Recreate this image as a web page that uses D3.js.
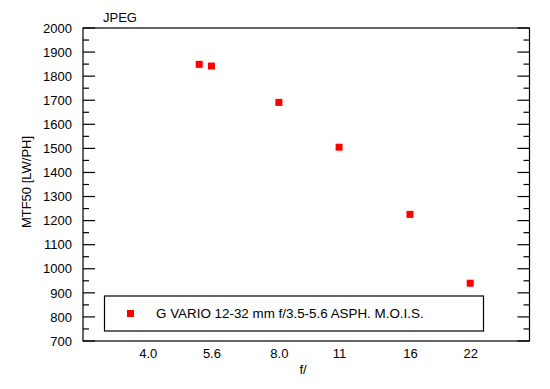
<!DOCTYPE html>
<html>
<head>
<meta charset="utf-8">
<script src="https://cdn.jsdelivr.net/npm/d3@7"></script>
<style>
  body { margin: 0; background: #fff; }
  text { font-family: "Liberation Sans", Arial, sans-serif; fill: #000; }
</style>
</head>
<body>
<svg id="chart" width="550" height="389"></svg>
<script>
// data
const apertures = [5.25, 5.6, 8.0, 11, 16, 22];
const mtf50 = [1849, 1842, 1691, 1505, 1226, 940];
const xTickValues = [4.0, 5.6, 8.0, 11, 16, 22];
const xTickLabels = ["4.0", "5.6", "8.0", "11", "16", "22"];
const seriesName = "G VARIO 12-32 mm f/3.5-5.6 ASPH. M.O.I.S.";

const svg = d3.select("#chart");
const margin = { left: 83, top: 28, right: 20.5, bottom: 48 };
const width = 550 - margin.left - margin.right;
const height = 389 - margin.top - margin.bottom;
const fs = "13px";

const g = svg.append("g").attr("transform", `translate(${margin.left},${margin.top})`);

const x = d3.scaleLog().domain([2.84, 30.1]).range([0, width]);
const y = d3.scaleLinear().domain([700, 2000]).range([height, 0]);

// frame
g.append("rect")
  .attr("x", 0).attr("y", 0)
  .attr("width", width).attr("height", height)
  .attr("fill", "none").attr("stroke", "#000").attr("stroke-width", 1.2);

// y ticks, major every 100, minor at 50 - on both sides, pointing inward
const majors = d3.range(700, 2001, 100);
const minors = d3.range(750, 2000, 100);

const yLeft = d3.axisLeft(y).tickValues(majors).tickFormat(d3.format("d")).tickSize(0).tickPadding(11);
const yAxisG = g.append("g").call(yLeft);
yAxisG.select(".domain").remove();
yAxisG.selectAll("text").style("font-size", fs).attr("fill", "#000");

const tickG = g.append("g").attr("stroke", "#000").attr("stroke-width", 1.2);
majors.forEach(v => {
  tickG.append("line").attr("x1", 0).attr("x2", 12).attr("y1", y(v)).attr("y2", y(v));
  tickG.append("line").attr("x1", width - 12).attr("x2", width).attr("y1", y(v)).attr("y2", y(v));
});
minors.forEach(v => {
  tickG.append("line").attr("x1", 0).attr("x2", 6).attr("y1", y(v)).attr("y2", y(v));
  tickG.append("line").attr("x1", width - 6).attr("x2", width).attr("y1", y(v)).attr("y2", y(v));
});

// x axis labels only, no tick marks
const xAxis = d3.axisBottom(x).tickValues(xTickValues)
  .tickFormat((d, i) => xTickLabels[i]).tickSize(0).tickPadding(8);
const xAxisG = g.append("g").attr("transform", `translate(0,${height})`).call(xAxis);
xAxisG.select(".domain").remove();
xAxisG.selectAll("text").style("font-size", fs).attr("fill", "#000");

// axis titles
svg.append("text")
  .attr("x", 303).attr("y", 374)
  .attr("text-anchor", "middle")
  .style("font-size", fs)
  .text("f/");

svg.append("text")
  .attr("transform", "translate(31,182) rotate(-90)")
  .attr("text-anchor", "middle")
  .style("font-size", fs)
  .text("MTF50 [LW/PH]");

svg.append("text")
  .attr("x", 103).attr("y", 22)
  .style("font-size", fs)
  .text("JPEG");

// points
const sq = 7;
g.append("g").selectAll("rect")
  .data(apertures.map((a, i) => ({ a, v: mtf50[i] })))
  .enter().append("rect")
  .attr("x", d => x(d.a) - sq / 2)
  .attr("y", d => y(d.v) - sq / 2)
  .attr("width", sq).attr("height", sq)
  .attr("fill", "#ff0000");

// legend
const legend = svg.append("g");
legend.append("rect")
  .attr("x", 104.5).attr("y", 296)
  .attr("width", 379).attr("height", 35)
  .attr("fill", "#fff").attr("stroke", "#000").attr("stroke-width", 1.2);
legend.append("rect")
  .attr("x", 130.5 - sq / 2).attr("y", 313.5 - sq / 2)
  .attr("width", sq).attr("height", sq)
  .attr("fill", "#ff0000");
legend.append("text")
  .attr("x", 156).attr("y", 318)
  .style("font-size", "13.4px")
  .text(seriesName);
</script>
</body>
</html>
